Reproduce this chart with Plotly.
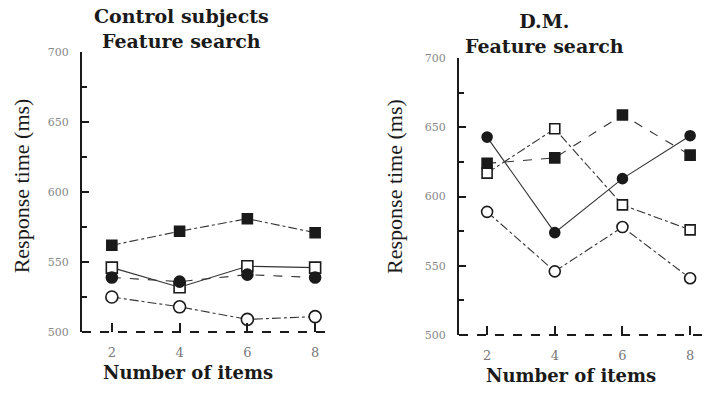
import plotly.graph_objects as go

items = [2, 4, 6, 8]
x_tick_labels = ["2", "4", "6", "8"]
y_tick_vals = [500, 550, 600, 650, 700]
y_tick_labels = ["500", "550", "600", "650", "700"]

# Control subjects, feature search (ms)
ctrl_filled_square = [562, 572, 581, 571]
ctrl_open_square = [546, 532, 547, 546]
ctrl_filled_circle = [539, 536, 541, 539]
ctrl_open_circle = [525, 518, 509, 511]

# D.M., feature search (ms)
dm_filled_circle = [643, 574, 613, 644]
dm_filled_square = [624, 628, 659, 630]
dm_open_square = [617, 649, 594, 576]
dm_open_circle = [589, 546, 578, 541]

INK = "#1a1a1a"
SERIF = "Liberation Serif, Times New Roman, serif"
WIDE_SERIF = "DejaVu Serif, serif"

fig = go.Figure()

def add_series(y, xa, ya, symbol, filled, dash, size):
    fig.add_trace(go.Scatter(
        x=items, y=y, xaxis=xa, yaxis=ya, mode="lines+markers",
        line=dict(color="#333333", width=1.1, dash=dash),
        marker=dict(symbol=symbol, size=size,
                    color=INK if filled else "white",
                    line=dict(color=INK, width=1.6)),
        cliponaxis=False, showlegend=False, hoverinfo="skip"))

add_series(ctrl_filled_square, "x", "y", "square", True, "dashdot", 10)
add_series(ctrl_open_square, "x", "y", "square", False, "solid", 11)
add_series(ctrl_filled_circle, "x", "y", "circle", True, "dash", 11)
add_series(ctrl_open_circle, "x", "y", "circle", False, "dashdot", 12)

add_series(dm_filled_circle, "x2", "y2", "circle", True, "solid", 10)
add_series(dm_filled_square, "x2", "y2", "square", True, "dash", 10)
add_series(dm_open_square, "x2", "y2", "square", False, "dashdot", 10)
add_series(dm_open_circle, "x2", "y2", "circle", False, "dashdot", 11)

xaxis_common = dict(
    tickvals=items, ticktext=x_tick_labels, ticks="inside", ticklen=9,
    tickwidth=1.5, tickcolor=INK, showline=False, showgrid=False,
    zeroline=False, ticklabelstandoff=11,
    tickfont=dict(family=WIDE_SERIF, size=13, color="#777777"))
yaxis_common = dict(
    tickvals=y_tick_vals, ticktext=y_tick_labels, ticks="inside", ticklen=7,
    tickwidth=1.5, tickcolor=INK, showline=True, linewidth=2, linecolor=INK,
    showgrid=False, zeroline=False, ticklabelstandoff=9,
    minor=dict(dtick=25, tick0=500, ticks="inside", ticklen=5, tickcolor=INK),
    tickfont=dict(family=WIDE_SERIF, size=11, color="#888888"))

fig.update_layout(
    width=704, height=395, autosize=False, margin=dict(l=0, r=0, t=0, b=0),
    paper_bgcolor="white", plot_bgcolor="white",
    xaxis=dict(domain=[0.1165, 0.4688], range=[1.12, 8.44], anchor="y", **xaxis_common),
    yaxis=dict(domain=[0.1466, 0.879], range=[500, 700], anchor="x", **yaxis_common),
    xaxis2=dict(domain=[0.652, 1.0], range=[1.17, 8.41], anchor="y2", **xaxis_common),
    yaxis2=dict(domain=[0.1387, 0.8633], range=[500, 700], anchor="x2", **yaxis_common),
)

for xr, yr in (("x domain", "y domain"), ("x2 domain", "y2 domain")):
    fig.add_shape(type="line", xref=xr, yref=yr, x0=0, x1=1, y0=0, y1=0,
                  line=dict(color=INK, width=1.8, dash="dash"))

ann = [
    dict(text="<b>Control subjects<br>Feature search</b>", x=0.2585, y=0.941),
    dict(text="<b>D.M.<br>Feature search</b>", x=0.774, y=0.929),
]
for a in ann:
    fig.add_annotation(xref="paper", yref="paper", showarrow=False,
                       xanchor="center", yanchor="middle",
                       font=dict(family=WIDE_SERIF, size=19, color=INK), **a)

for x, y in ((0.267, 0.008), (0.811, 0.0)):
    fig.add_annotation(text="<b>Number of items</b>", xref="paper", yref="paper",
                       x=x, y=y, showarrow=False, xanchor="center", yanchor="bottom",
                       font=dict(family=WIDE_SERIF, size=18, color=INK))

for x, y in ((0.031, 0.53), (0.56, 0.527)):
    fig.add_annotation(text="Response time (ms)", xref="paper", yref="paper",
                       x=x, y=y, showarrow=False, textangle=-90,
                       xanchor="center", yanchor="middle",
                       font=dict(family=SERIF, size=22, color=INK))

fig.write_html("out.html",
               config={"displayModeBar": False, "responsive": False},
               default_width="704px", default_height="395px",
               post_script="document.body.style.margin='0';document.body.style.overflow='hidden';")
